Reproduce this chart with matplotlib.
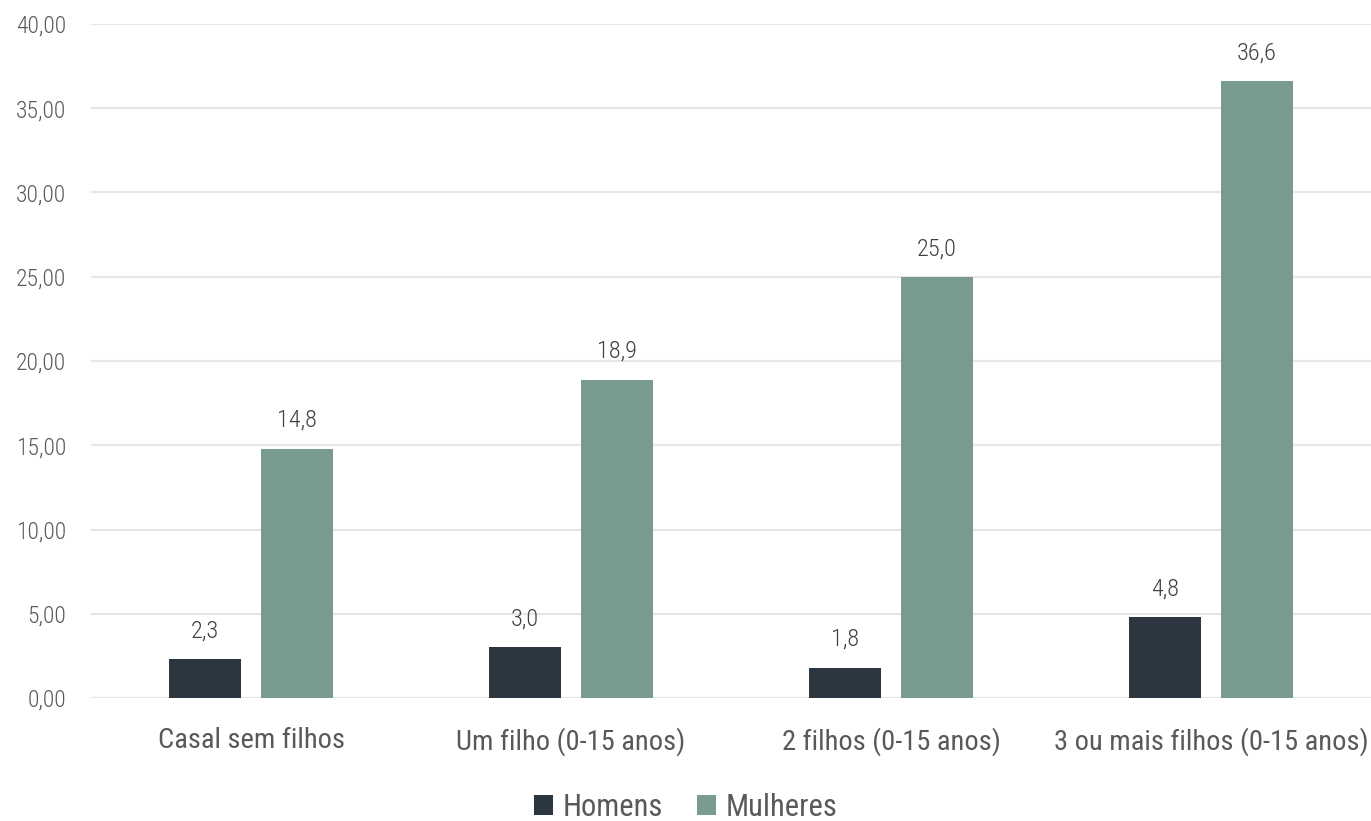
import matplotlib
matplotlib.use('Agg')
import matplotlib.pyplot as plt
import numpy as np

# dados
categorias = ['Casal sem filhos', 'Um filho (0-15 anos)', '2 filhos (0-15 anos)',
              '3 ou mais filhos (0-15 anos)']
homens = [2.3, 3.0, 1.8, 4.8]
mulheres = [14.8, 18.9, 25.0, 36.6]
yticks = [0, 5, 10, 15, 20, 25, 30, 35, 40]

plt.rcParams['font.family'] = ['Roboto Condensed', 'DejaVu Sans']
plt.rcParams['font.weight'] = 'light'
cor_h = '#2c3640'
cor_m = '#789b8e'
cinza = '#595959'

fig = plt.figure(figsize=(13.71, 8.21), dpi=100)
ax = fig.add_axes([91/1371, 1-698/821, 1-91/1371, (698-24)/821])

x = np.arange(len(categorias))
w = 0.225
off = w/2 + 0.03125
b1 = ax.bar(x - off, homens, w, color=cor_h, label='Homens', zorder=3)
b2 = ax.bar(x + off, mulheres, w, color=cor_m, label='Mulheres', zorder=3)

for bars, vals in [(b1, homens), (b2, mulheres)]:
    for r, v in zip(bars, vals):
        ax.annotate(('%.1f' % v).replace('.', ','), (r.get_x() + r.get_width()/2, v),
                    xytext=(0, 12), textcoords='offset points', ha='center',
                    va='bottom', fontsize=17.5, color='#404040')

ax.set_xlim(-0.5, 3.5)
ax.set_ylim(0, 40)
ax.set_yticks(yticks)
ax.set_yticklabels([('%.2f' % t).replace('.', ',') for t in yticks], fontsize=17, color=cinza)
ax.set_xticks(x)
ax.set_xticklabels(categorias, fontsize=20.5, color=cinza, fontweight='normal')
ax.tick_params(axis='both', length=0)
ax.tick_params(axis='y', pad=18)
ax.tick_params(axis='x', pad=21)
ax.grid(axis='y', color='#e6e6e6', linewidth=1.5, zorder=0)
for s in ax.spines.values():
    s.set_visible(False)

leg = fig.legend(handles=[b1, b2], loc='center', bbox_to_anchor=(0.5, 1-807/821), ncol=2,
                 frameon=False, prop={'size': 22, 'weight': 'normal'},
                 handlelength=0.65, handleheight=0.65,
                 columnspacing=1.1, handletextpad=0.3)
for t in leg.get_texts():
    t.set_color(cinza)

fig.savefig('out.png', dpi=100)
